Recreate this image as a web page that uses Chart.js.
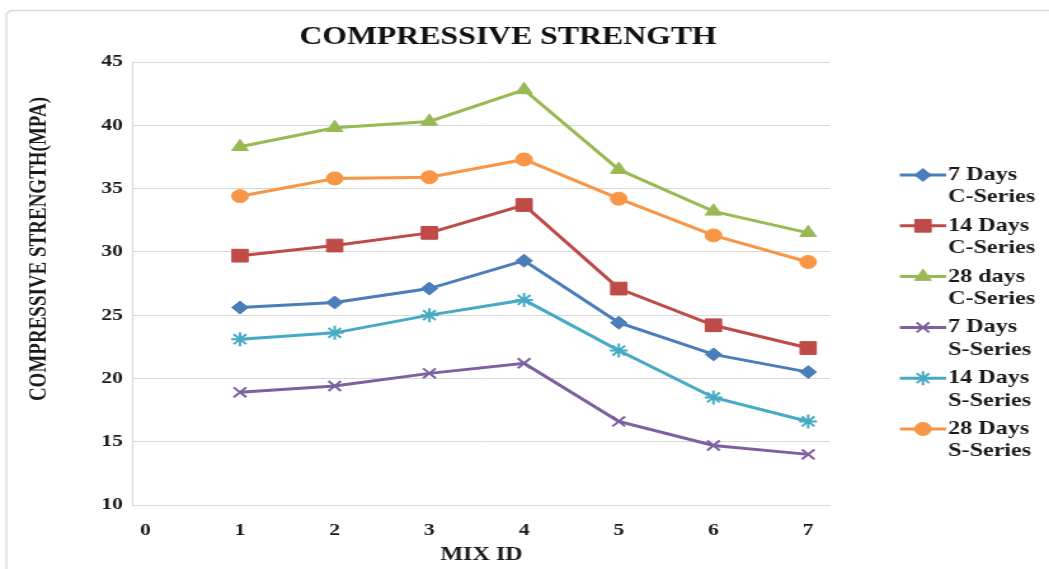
<!DOCTYPE html>
<html>
<head>
<meta charset="utf-8">
<script src="https://cdn.jsdelivr.net/npm/chart.js@4.4.1/dist/chart.umd.min.js"></script>
<style>
  html, body { margin: 0; padding: 0; background: #ffffff; overflow: hidden; }
  #wrap { width: 1049px; height: 569px; position: relative; overflow: hidden; }
  /* the figure is drawn on a narrower canvas and widened to the page width */
  #c { display: block; transform: scaleX(1.27); transform-origin: 0 0; }
</style>
</head>
<body>
<div id="wrap"><canvas id="c" width="826" height="569"></canvas></div>
<script>
// Mix identifiers on the x axis and the axis tick labels
const mixIds = [1, 2, 3, 4, 5, 6, 7];
const xTickLabels = [0, 1, 2, 3, 4, 5, 6, 7];
const yTickLabels = [10, 15, 20, 25, 30, 35, 40, 45];

// Compressive strength (MPa) per mix
const days7C  = [25.6, 26.0, 27.1, 29.3, 24.4, 21.9, 20.5];
const days14C = [29.7, 30.5, 31.5, 33.7, 27.1, 24.2, 22.4];
const days28C = [38.3, 39.8, 40.3, 42.8, 36.5, 33.2, 31.5];
const days7S  = [18.9, 19.4, 20.4, 21.2, 16.6, 14.7, 14.0];
const days14S = [23.1, 23.6, 25.0, 26.2, 22.2, 18.5, 16.6];
const days28S = [34.4, 35.8, 35.9, 37.3, 34.2, 31.3, 29.2];

// Legend names (two lines each)
const seriesNames = [
  ['7 Days', 'C-Series'],
  ['14 Days', 'C-Series'],
  ['28 days', 'C-Series'],
  ['7 Days', 'S-Series'],
  ['14 Days', 'S-Series'],
  ['28 Days', 'S-Series']
];

const chartTitle = 'COMPRESSIVE STRENGTH';
const yAxisTitle = 'COMPRESSIVE STRENGTH(MPA)';
const SERIF = "'Liberation Serif', 'Times New Roman', serif";

function pts(values) {
  return mixIds.map((id, i) => ({ x: id, y: values[i] }));
}

function series(idx, values, color, style, radius) {
  return {
    label: seriesNames[idx].join(' '),
    legendLines: seriesNames[idx],
    data: pts(values),
    borderColor: color,
    backgroundColor: color,
    borderWidth: 3,
    pointStyle: style,
    pointRadius: radius,
    pointHoverRadius: radius,
    pointBackgroundColor: color,
    pointBorderColor: color,
    pointBorderWidth: (style === 'crossRot' || style === 'star') ? 2 : 1,
    tension: 0
  };
}

// Frame around the whole figure, the title, and the vertical axis title
const framePlugin = {
  id: 'frame',
  beforeDraw(chart) {
    const ctx = chart.ctx;
    ctx.save();
    ctx.strokeStyle = '#d9d9d9';
    ctx.lineWidth = 1.3;
    ctx.beginPath();
    ctx.roundRect(5, 10.5, 840, 580, 5);
    ctx.stroke();
    ctx.fillStyle = '#111111';
    ctx.font = "bold 25px " + SERIF;
    ctx.textAlign = 'center';
    ctx.textBaseline = 'middle';
    ctx.fillText(chartTitle, 400, 38);
    ctx.translate(31.5, 249);
    ctx.rotate(-Math.PI / 2);
    ctx.fillStyle = '#1a1a1a';
    ctx.font = "bold 19px " + SERIF;
    ctx.fillText(yAxisTitle, 0, 0);
    ctx.restore();
  }
};

// Legend on the right with two-line labels
const sideLegend = {
  id: 'sideLegend',
  afterDraw(chart) {
    const ctx = chart.ctx;
    const x0 = 708.5, x1 = 745, textX = 746.5;
    const firstY = 175, entryGap = 50.8, lineGap = 22.5;
    ctx.save();
    chart.data.datasets.forEach((ds, i) => {
      const y = firstY + i * entryGap;
      ctx.strokeStyle = ds.borderColor;
      ctx.lineWidth = 3;
      ctx.beginPath();
      ctx.moveTo(x0, y);
      ctx.lineTo(x1, y);
      ctx.stroke();
      ctx.fillStyle = ds.pointBackgroundColor;
      ctx.strokeStyle = ds.pointBorderColor;
      ctx.lineWidth = ds.pointBorderWidth;
      Chart.helpers.drawPoint(ctx, {
        pointStyle: ds.pointStyle,
        radius: ds.pointRadius,
        borderWidth: ds.pointBorderWidth,
        rotation: 0
      }, (x0 + x1) / 2, y);
      ctx.fillStyle = '#1a1a1a';
      ctx.font = "bold 19px " + SERIF;
      ctx.textAlign = 'left';
      ctx.textBaseline = 'middle';
      ds.legendLines.forEach((t, k) => ctx.fillText(t, textX, y + k * lineGap));
    });
    ctx.restore();
  }
};

new Chart(document.getElementById('c'), {
  type: 'line',
  data: {
    datasets: [
      series(0, days7C,  '#4a7ebb', 'rectRot', 6.5),
      series(1, days14C, '#be4b48', 'rect', 9),
      series(2, days28C, '#98b954', 'triangle', 7.5),
      series(3, days7S,  '#7d60a0', 'crossRot', 7),
      series(4, days14S, '#46aac5', 'star', 7),
      series(5, days28S, '#f79646', 'circle', 6.5)
    ]
  },
  options: {
    responsive: false,
    animation: false,
    layout: { padding: { left: 14, right: 172.5, top: 62, bottom: 3 } },
    plugins: {
      legend: { display: false },
      tooltip: { enabled: false },
      title: { display: false }
    },
    scales: {
      x: {
        type: 'linear',
        min: -0.13,
        max: 7.23,
        afterBuildTicks(scale) { scale.ticks = xTickLabels.map(v => ({ value: v })); },
        afterFit(scale) { scale.height = 61; },
        grid: { display: false, drawTicks: false },
        border: { display: true, color: '#d9d9d9', width: 1 },
        ticks: {
          color: '#1a1a1a',
          padding: 15,
          maxRotation: 0,
          font: { family: SERIF, size: 17, weight: 'bold' }
        },
        title: {
          display: true,
          text: 'MIX ID',
          color: '#1a1a1a',
          font: { family: SERIF, size: 19, weight: 'bold' },
          padding: { top: 0, bottom: 0 }
        }
      },
      y: {
        min: 10,
        max: 45,
        afterBuildTicks(scale) { scale.ticks = yTickLabels.map(v => ({ value: v })); },
        afterFit(scale) { scale.width = 90.7; },
        grid: { color: '#d9d9d9', lineWidth: 1, drawTicks: false },
        border: { display: true, color: '#d9d9d9', width: 1 },
        ticks: {
          color: '#1a1a1a',
          padding: 8,
          font: { family: SERIF, size: 17, weight: 'bold' }
        }
      }
    }
  },
  plugins: [framePlugin, sideLegend]
});
</script>
</body>
</html>
